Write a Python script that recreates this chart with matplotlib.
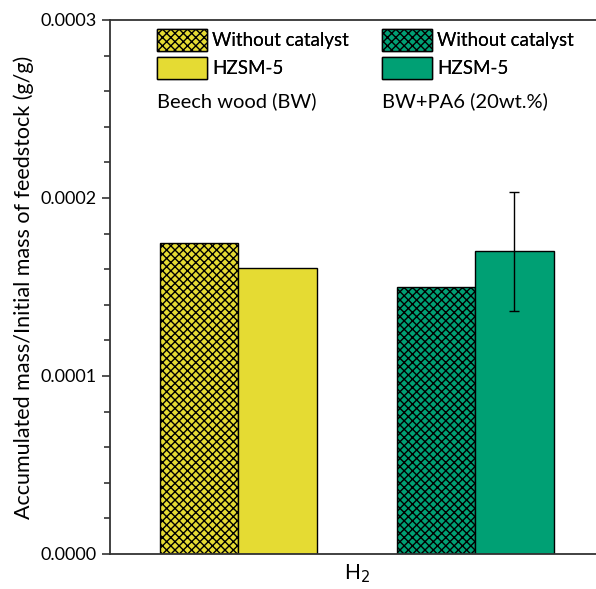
import matplotlib.pyplot as plt
from matplotlib.ticker import FormatStrFormatter, MultipleLocator
from matplotlib.patches import Patch

plt.rcParams['font.family'] = ['Lato', 'DejaVu Sans']
plt.rcParams['hatch.linewidth'] = 1.0

# data
gases = ['H$_2$']
feeds = ['Beech wood (BW)', 'BW+PA6 (20wt.%)']
without_cat = [1.75e-4, 1.50e-4]
hzsm5 = [1.605e-4, 1.70e-4]
hzsm5_err = [0.0, 3.33e-5]
colors = ['#E5DB33', '#00A074']

fig = plt.figure(figsize=(5.96, 5.89), dpi=100)
ax = fig.add_axes([110/596, 1-554/589, 494/596, 534/589])

w = 0.318
centers = [-0.48, 0.478]
for i in range(2):
    ax.bar(centers[i]-w/2, without_cat[i], w, color=colors[i], edgecolor='black',
           linewidth=1, hatch='xxxx')
    ax.bar(centers[i]+w/2, hzsm5[i], w, color=colors[i], edgecolor='black', linewidth=1)
    if hzsm5_err[i] > 0:
        ax.errorbar(centers[i]+w/2, hzsm5[i], yerr=hzsm5_err[i], color='black',
                    capsize=3.5, linewidth=1, capthick=1)

ax.set_xlim(-1, 1)
ax.set_ylim(0, 0.0003)
ax.yaxis.set_major_locator(MultipleLocator(0.0001))
ax.yaxis.set_minor_locator(MultipleLocator(0.00002))
ax.yaxis.set_major_formatter(FormatStrFormatter('%.4f'))
ax.set_xticks([0], gases)
ax.tick_params(axis='x', length=0, labelsize=15, pad=6)
ax.tick_params(axis='y', which='major', direction='out', length=6, width=1.2,
               labelsize=13, color='#333333')
ax.tick_params(axis='y', which='minor', direction='out', length=4, width=1.2, color='#333333')
ax.set_ylabel('Accumulated mass/Initial mass of feedstock (g/g)', fontsize=15.5, labelpad=5)
for s in ['left', 'top', 'right', 'bottom']:
    ax.spines[s].set_color('#333333')
    ax.spines[s].set_linewidth(1.3)

for i, x0 in enumerate([157/596, 382/596]):
    handles = [Patch(facecolor=colors[i], edgecolor='black', hatch='xxxx', label='Without catalyst'),
               Patch(facecolor=colors[i], edgecolor='black', label='HZSM-5')]
    leg = fig.legend(handles=handles, loc='upper left', bbox_to_anchor=(x0 - 0.022, 1 - 16/589),
                     frameon=False, fontsize=13.5, handlelength=2.65, handleheight=1.45,
                     handletextpad=0.3, labelspacing=0.3, borderpad=0.2)
    fig.add_artist(leg)
    fig.text(x0, 1 - 101/589, feeds[i], fontsize=14.5, va='center', ha='left')

fig.savefig('out.png', dpi=100)
